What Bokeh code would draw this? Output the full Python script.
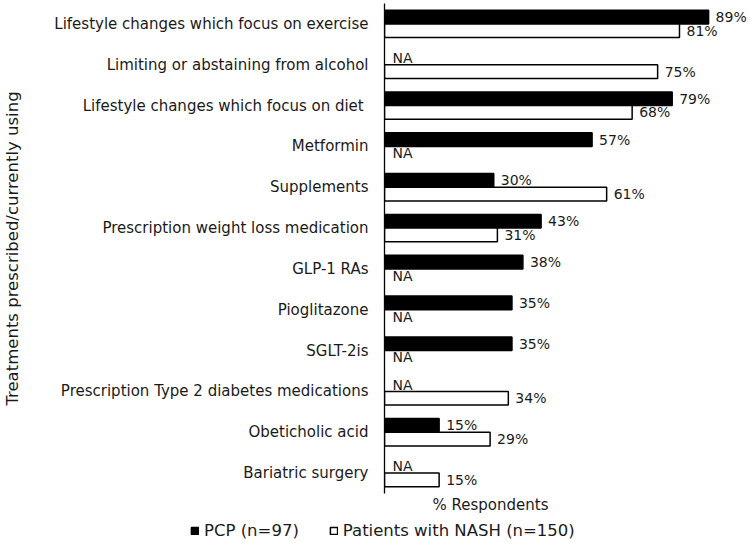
import pandas as pd
from bokeh.plotting import figure
from bokeh.models import ColumnDataSource, FactorRange, Range1d, Legend, LegendItem, Title
from bokeh.transform import dodge
from bokeh.core.properties import value
from bokeh.embed import file_html
from bokeh.resources import INLINE

categories = [
    "Lifestyle changes which focus on exercise",
    "Limiting or abstaining from alcohol",
    "Lifestyle changes which focus on diet ",
    "Metformin",
    "Supplements",
    "Prescription weight loss medication",
    "GLP-1 RAs",
    "Pioglitazone",
    "SGLT-2is",
    "Prescription Type 2 diabetes medications",
    "Obeticholic acid",
    "Bariatric surgery",
]
pcp = [89, None, 79, 57, 30, 43, 38, 35, 35, None, 15, None]
nash = [81, 75, 68, None, 61, 31, None, None, None, 34, 29, 15]
series_labels = ["PCP (n=97)", "Patients with NASH (n=150)"]
x_title = "% Respondents"
y_title = "Treatments prescribed/currently using"

FONT = "DejaVu Sans"
TXT = "#1a1a1a"
DOD = 0.167
BH = 0.334
STYLES = [dict(fill_color="black", line_color="black", line_width=1.5),
          dict(fill_color="white", line_color="black", line_width=1.5)]


def split(vals):
    have = [(c, v) for c, v in zip(categories, vals) if v is not None]
    na = [c for c, v in zip(categories, vals) if v is None]
    src = ColumnDataSource(dict(cat=[c for c, _ in have], val=[v for _, v in have],
                                lbl=[f"{v}%" for _, v in have]))
    nsrc = ColumnDataSource(dict(cat=na, val=[0] * len(na), lbl=["NA"] * len(na)))
    return src, nsrc


p = figure(width=750, height=518,
           y_range=FactorRange(factors=categories[::-1]),
           x_range=Range1d(0, 100.5),
           x_axis_location=None,
           output_backend="svg", toolbar_location=None,
           min_border_left=382, min_border_right=0, min_border_top=3, min_border_bottom=25)
p.outline_line_color = None
p.xgrid.visible = False
p.ygrid.visible = False

ya = p.yaxis[0]
ya.major_tick_line_color = None
ya.minor_tick_line_color = None
ya.major_tick_out = 0
ya.major_tick_in = 0
ya.minor_tick_out = 0
ya.major_label_standoff = 16
ya.major_label_text_font = FONT
ya.major_label_text_font_size = "15px"
ya.major_label_text_color = TXT
ya.axis_label = y_title
ya.axis_label_text_font = FONT
ya.axis_label_text_font_size = "16.5px"
ya.axis_label_text_font_style = "normal"
ya.axis_label_text_color = TXT
ya.axis_label_standoff = 29
ya.axis_line_color = "black"
ya.axis_line_width = 1.3

sources = []
for vals, off, sty in [(pcp, DOD, STYLES[0]), (nash, -DOD, STYLES[1])]:
    src, nsrc = split(vals)
    sources.append(src)
    ycoord = dodge("cat", off, range=p.y_range)
    p.hbar(y=ycoord, left=0, right="val", height=BH, source=src, **sty)
    p.text(x="val", y=ycoord, text="lbl", source=src, x_offset=7,
           text_baseline="middle", text_align="left", text_font=value(FONT),
           text_font_size="14px", text_color=TXT)
    p.text(x="val", y=ycoord, text="lbl", source=nsrc, x_offset=8,
           text_baseline="middle", text_align="left", text_font=value(FONT),
           text_font_size="14px", text_color=TXT)

t = Title(text=x_title, align="left", offset=48, standoff=1, text_font=FONT,
          text_font_size="15px", text_font_style="normal", text_color=TXT)
p.add_layout(t, "below")

# legend strip below the chart
q = figure(width=750, height=25, x_range=Range1d(0, 1), y_range=Range1d(0, 1),
           x_axis_location=None, y_axis_location=None,
           output_backend="svg", toolbar_location=None,
           min_border_left=0, min_border_right=0, min_border_top=0, min_border_bottom=0)
q.outline_line_color = None
q.xgrid.visible = False
q.ygrid.visible = False
leg_r = [q.hbar(y="val", left=0, right="val", height=0.5, source=sources[i],
                visible=False, **STYLES[i]) for i in range(2)]

legend = Legend(items=[LegendItem(label=series_labels[i], renderers=[leg_r[i]]) for i in range(2)],
                orientation="horizontal", location=(190, 3),
                glyph_width=9, glyph_height=9, label_standoff=5, spacing=30,
                padding=0, margin=0, border_line_color=None, background_fill_alpha=0,
                label_text_font=FONT, label_text_font_size="16.5px", label_text_color=TXT)
q.add_layout(legend, "center")

open("out.html", "w").write(file_html([p, q], INLINE))
